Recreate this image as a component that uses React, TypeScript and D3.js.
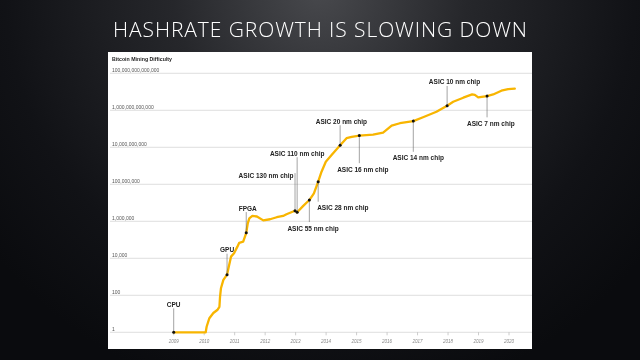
import React from 'react';
import * as d3 from 'd3';

const TITLE = 'HASHRATE GROWTH IS SLOWING DOWN';
const SUBTITLE = 'Bitcoin Mining Difficulty';

const yTickValues = [1, 1e2, 1e4, 1e6, 1e8, 1e10, 1e12, 1e14];
const xTickYears = [2009, 2010, 2011, 2012, 2013, 2014, 2015, 2016, 2017, 2018, 2019, 2020];

const lineYears = [
  2009.0, 2010.05, 2010.08, 2010.17, 2010.3, 2010.43, 2010.5, 2010.52, 2010.55, 2010.63,
  2010.75, 2010.82, 2010.88, 2010.98, 2011.09, 2011.15, 2011.28, 2011.38, 2011.43, 2011.48,
  2011.58, 2011.73, 2011.94, 2012.16, 2012.38, 2012.59, 2012.7, 2012.98, 2013.05, 2013.25,
  2013.45, 2013.6, 2013.74, 2013.85, 2013.99, 2014.18, 2014.46, 2014.67, 2014.84, 2015.09,
  2015.54, 2015.87, 2016.15, 2016.42, 2016.86, 2017.18, 2017.62, 2017.97, 2018.17, 2018.5,
  2018.79, 2018.88, 2018.99, 2019.28, 2019.48, 2019.75, 2019.97, 2020.19,
];
const lineDifficulty = [
  1, 1, 2, 5.8, 11, 16, 24, 83, 240, 680,
  1300, 4400, 12300, 18600, 42700, 69000, 79000, 240000, 780000, 1.45e6,
  1.95e6, 1.82e6, 1.12e6, 1.29e6, 1.66e6, 1.95e6, 2.4e6, 3.7e6, 3.1e6, 6.8e6,
  1.41e7, 3.2e7, 1.38e8, 4.8e8, 1.66e9, 3.8e9, 1.29e10, 3.1e10, 3.7e10, 4.3e10,
  4.8e10, 6.2e10, 1.48e11, 2.0e11, 2.6e11, 4.2e11, 8.3e11, 1.78e12, 2.9e12, 4.8e12,
  7.2e12, 6.8e12, 5.0e12, 5.9e12, 7.2e12, 1.15e13, 1.38e13, 1.48e13,
];

const milestoneNames = [
  'CPU', 'GPU', 'FPGA', 'ASIC 130 nm chip', 'ASIC 110 nm chip', 'ASIC 55 nm chip',
  'ASIC 28 nm chip', 'ASIC 20 nm chip', 'ASIC 16 nm chip', 'ASIC 14 nm chip',
  'ASIC 10 nm chip', 'ASIC 7 nm chip',
];
const milestoneYears = [
  2009.0, 2010.75, 2011.38, 2012.98, 2013.05, 2013.45, 2013.74, 2014.46, 2015.09, 2016.86, 2017.97, 2019.28,
];
const milestoneDifficulty = [
  1, 1300, 240000, 3.7e6, 3.1e6, 1.41e7, 1.38e8, 1.29e10, 4.3e10, 2.6e11, 1.78e12, 5.9e12,
];

// label layout (pixels): leader direction, leader length, text anchor, text x offset
const milestoneLayout = [
  { side: 'up', len: 24, anchor: 'middle', dx: 0 },
  { side: 'up', len: 21, anchor: 'middle', dx: 0 },
  { side: 'up', len: 20.7, anchor: 'middle', dx: 1.5 },
  { side: 'left', len: 37.7, anchor: 'end', dx: -1.5 },
  { side: 'up', len: 55, anchor: 'middle', dx: 0 },
  { side: 'down', len: 22, anchor: 'middle', dx: 3.7 },
  { side: 'down', len: 20, anchor: 'start', dx: -1 },
  { side: 'up', len: 20, anchor: 'middle', dx: 1.3 },
  { side: 'down', len: 27.6, anchor: 'middle', dx: 3.5 },
  { side: 'down', len: 30.7, anchor: 'middle', dx: 5 },
  { side: 'up', len: 19.7, anchor: 'middle', dx: 7.4 },
  { side: 'down', len: 21.3, anchor: 'middle', dx: 3.8 },
];

const W = 640;
const H = 360;
const PANEL = { x: 108, y: 52, w: 424, h: 297 };
const LINE_COLOR = '#F8B500';
const FONT = '"Liberation Sans", Arial, sans-serif';

export default function App() {
  const x = d3.scaleLinear().domain([2009, 2020]).range([173.7, 509]);
  const y = d3.scaleLog().domain([1, 1e14]).range([332.3, 73.3]);

  const pts: [number, number][] = lineYears.map((yr, i) => [yr, lineDifficulty[i]]);
  const line = d3
    .line<[number, number]>()
    .x((d) => x(d[0]))
    .y((d) => y(d[1]))
    .curve(d3.curveLinear);

  const fmt = d3.format(',.0f');

  return (
    <svg
      width={W}
      height={H}
      viewBox={`0 0 ${W} ${H}`}
      style={{ position: 'fixed', left: 0, top: 0, display: 'block' }}
    >
      <defs>
        <radialGradient id="bg" cx="320" cy="-10" r="420" gradientUnits="userSpaceOnUse">
          <stop offset="0" stopColor="#48494d" />
          <stop offset="0.35" stopColor="#26272b" />
          <stop offset="0.75" stopColor="#111216" />
          <stop offset="1" stopColor="#0a0b0e" />
        </radialGradient>
      </defs>
      <rect x={0} y={0} width={W} height={H} fill="url(#bg)" />
      <text
        x={W / 2}
        y={37}
        textAnchor="middle"
        fill="#ffffff"
        fontFamily='"Open Sans", "DejaVu Sans", sans-serif'
        fontWeight={300}
        fontSize={21}
        textLength={414}
        lengthAdjust="spacing"
      >
        {TITLE}
      </text>

      <rect x={PANEL.x} y={PANEL.y} width={PANEL.w} height={PANEL.h} fill="#ffffff" />

      <text
        x={112}
        y={61}
        fill="#222"
        fontFamily={FONT}
        fontWeight={700}
        fontSize={5.6}
        textLength={60}
        lengthAdjust="spacingAndGlyphs"
      >
        {SUBTITLE}
      </text>

      {yTickValues.map((v) => (
        <g key={v}>
          <line
            x1={110}
            x2={PANEL.x + PANEL.w}
            y1={y(v)}
            y2={y(v)}
            stroke="#d6d6d6"
            strokeWidth={0.8}
          />
          <text x={112} y={y(v) - 1.2} fill="#555" fontFamily={FONT} fontSize={5}>
            {fmt(v)}
          </text>
        </g>
      ))}

      {xTickYears.map((yr) => (
        <g key={yr}>
          <line x1={x(yr)} x2={x(yr)} y1={y(1)} y2={y(1) + 3} stroke="#aaa" strokeWidth={0.6} />
          <text
            x={x(yr)}
            y={342.5}
            textAnchor="middle"
            fill="#888"
            fontFamily={FONT}
            fontStyle="italic"
            fontSize={4.5}
          >
            {yr}
          </text>
        </g>
      ))}

      <path
        d={line(pts) || ''}
        fill="none"
        stroke={LINE_COLOR}
        strokeWidth={2.3}
        strokeLinejoin="round"
        strokeLinecap="round"
      />

      {milestoneNames.map((name, i) => {
        const px = x(milestoneYears[i]);
        const py = y(milestoneDifficulty[i]);
        const L = milestoneLayout[i];
        let endY: number;
        let ty: number;
        if (L.side === 'down') {
          endY = py + L.len;
          ty = endY + 8.5;
        } else if (L.side === 'left') {
          endY = py - L.len;
          ty = endY + 5;
        } else {
          endY = py - L.len;
          ty = endY - 1.5;
        }
        return (
          <g key={name}>
            <line x1={px} x2={px} y1={py} y2={endY} stroke="#666" strokeWidth={0.6} />
            <circle cx={px} cy={py} r={1.5} fill="#111" />
            <text
              x={px + L.dx}
              y={ty}
              textAnchor={L.anchor as any}
              fill="#222"
              fontFamily={FONT}
              fontWeight={700}
              fontSize={6.5}
            >
              {name}
            </text>
          </g>
        );
      })}
    </svg>
  );
}
